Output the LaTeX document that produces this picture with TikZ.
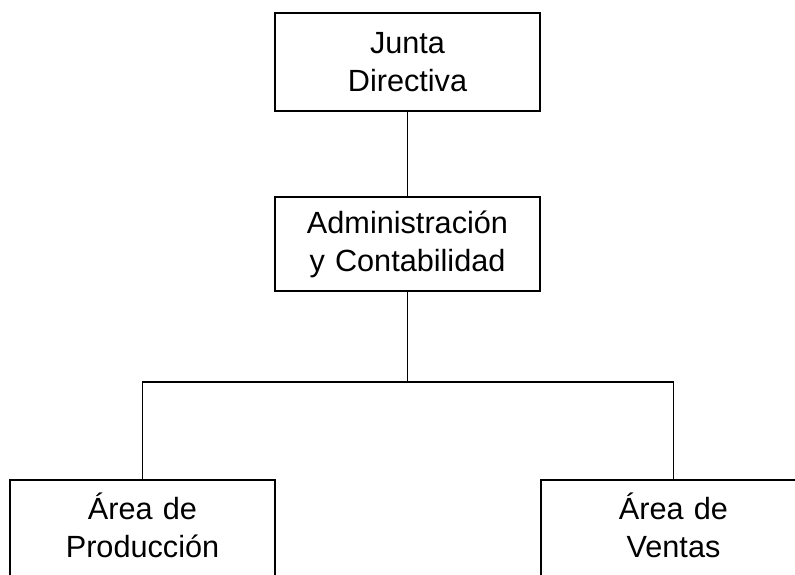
\documentclass[tikz,border=0pt]{standalone}
\usepackage{fontspec}
\setmainfont{Liberation Sans}
\tikzset{caja/.style={draw, line width=1.3pt, minimum width=6.625cm, text width=6.4cm, align=center, inner sep=0pt, font=\fontsize{21.8pt}{27pt}\selectfont}}
\begin{document}
\begin{tikzpicture}[x=0.025cm, y=-0.025cm]
\clip (0,0) rectangle (795,574);
\node[caja, minimum height=2.45cm] (junta) at (407.5,62) {Junta\\Directiva};
\node[caja, minimum height=2.35cm] (admin) at (407.5,244) {Administración\\y Contabilidad};
\node[caja, minimum height=2.5cm, text depth=1.2cm] (prod) at (142.5,530) {Área de\\Producción};
\node[caja, minimum height=2.5cm, text depth=1.2cm] (ventas) at (673.5,530) {Área de\\Ventas};
\coordinate (bus) at (407.5,382);
\draw[line width=1.3pt] (junta) -- (admin);
\draw[line width=1.3pt] (admin) -- (bus);
\draw[line width=1.3pt] (bus) -| (prod);
\draw[line width=1.3pt] (bus) -| (ventas);
\end{tikzpicture}
\end{document}
